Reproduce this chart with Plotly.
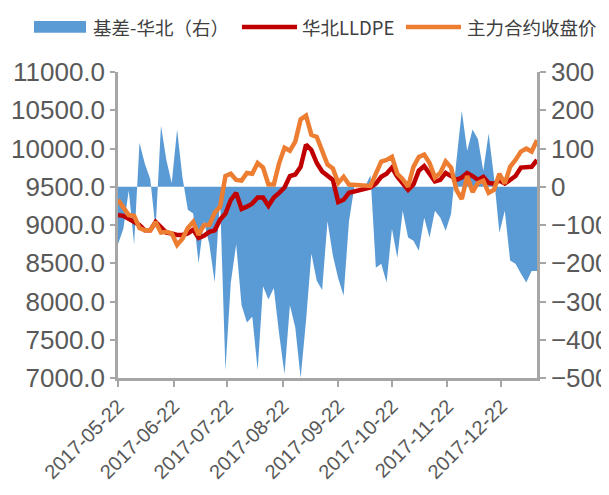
import pandas as pd
import plotly.graph_objects as go

# dates: every 3 calendar days from 2017-05-22 to 2018-01-11
dates = pd.date_range("2017-05-22", "2018-01-11", freq="3D")

# 华北LLDPE (left axis)
lldpe = [9130, 9120, 9080, 9040, 9000, 8930, 8930, 9040, 8960, 8900,
         8890, 8870, 8870, 8890, 8940, 8830, 8860, 8910, 8930, 9070,
         9150, 9330, 9420, 9210, 9240, 9280, 9360, 9360, 9250, 9360,
         9420, 9490, 9640, 9660, 9760, 10050, 9980, 9810, 9700, 9640,
         9590, 9300, 9330, 9420, None, None, None, 9490, 9540, 9630,
         9670, 9750, 9630, 9540, 9460, 9530, 9710, 9770, 9670, 9570,
         9590, 9680, 9640, 9590, 9620, 9680, 9640, 9590, 9630, 9550,
         9540, 9580, 9540, 9590, 9640, 9750, 9760, 9760, 9850]

# 主力合约收盘价 (left axis)
futures = [9330, 9240, 9130, 9120, 8960, 8930, 8930, 9040, 8900, 8910,
           8890, 8740, 8820, 8960, 9040, 8870, 9000, 9000, 9160, 9240,
           9640, 9670, 9590, 9580, 9680, 9670, 9810, 9750, 9530, 9530,
           9810, 10010, 9970, 10090, 10380, 10430, 10180, 10150, 9980, 9790,
           9740, 9550, 9630, 9530, None, None, None, 9510, 9660, 9830,
           9850, 9890, 9670, 9600, 9500, 9760, 9890, 9920, 9810, 9620,
           9680, 9830, 9750, 9460, 9340, 9640, 9430, 9550, 9580, 9420,
           9460, 9670, 9540, 9760, 9850, 9960, 10000, 9960, 10110]

# 基差-华北 (right axis)
basis = [-150, -110, -10, -150, 115, 60, 20, -110, 160, 70,
         10, 150, 25, -60, -70, -200, -90, -150, -250, -30,
         -480, -250, -150, -310, -355, -340, -480, -260, -295, -265,
         -385, -490, -310, -368, -500, -350, -175, -246, -270, -90,
         -180, -240, -285, -90, 0, 0, 0, 30, -212, -201,
         -250, -110, -186, -63, -133, -141, -167, -81, -133, -63,
         -81, -115, -71, 68, 199, 94, 150, 125, 42, 139,
         24, -120, -63, -193, -201, -227, -250, -220, -220]

tick_dates = ["2017-05-22", "2017-06-22", "2017-07-22", "2017-08-22",
              "2017-09-22", "2017-10-22", "2017-11-22", "2017-12-22"]

series_names = ["基差-华北（右）", "华北LLDPE", "主力合约收盘价"]
series_colors = ["#5B9BD5", "#C00000", "#ED7D31"]

FONT = "Liberation Sans, Arial, Noto Sans CJK SC, sans-serif"
AX = "#A6A6A6"
TXT = "#595959"

fig = go.Figure()
fig.add_trace(go.Scatter(
    x=dates, y=basis, name=series_names[0], mode="lines",
    line=dict(width=0, color=series_colors[0]), fill="tozeroy",
    fillcolor=series_colors[0], yaxis="y", showlegend=False))
fig.add_trace(go.Scatter(
    x=dates, y=lldpe, name=series_names[1], mode="lines",
    line=dict(width=4.5, color=series_colors[1]), connectgaps=True,
    yaxis="y2", showlegend=False))
fig.add_trace(go.Scatter(
    x=dates, y=futures, name=series_names[2], mode="lines",
    line=dict(width=4.5, color=series_colors[2]), connectgaps=True,
    yaxis="y2", showlegend=False))

# custom legend (paper coordinates)
LY = 1.147
fig.add_shape(type="rect", xref="paper", yref="paper",
              x0=-0.2005, x1=-0.0764, y0=1.128, y1=1.167,
              fillcolor=series_colors[0], line=dict(width=0))
fig.add_shape(type="line", xref="paper", yref="paper",
              x0=0.2959, x1=0.4272, y0=LY, y1=LY,
              line=dict(color=series_colors[1], width=4.5))
fig.add_shape(type="line", xref="paper", yref="paper",
              x0=0.6874, x1=0.8186, y0=LY, y1=LY,
              line=dict(color=series_colors[2], width=4.5))
for xp, txt in zip([-0.0644, 0.4344, 0.8282], series_names):
    fig.add_annotation(xref="paper", yref="paper", x=xp, y=LY,
                       xanchor="left", yanchor="middle", text=txt,
                       showarrow=False,
                       font=dict(size=18.5, color="#404040",
                                 family="Noto Sans CJK SC, Liberation Sans, sans-serif"))

# figure is shrunk by the page's 8px body margin so the plot lands in place
fig.update_layout(
    width=601, height=487,
    margin=dict(l=110, r=72, t=64, b=117, autoexpand=False),
    paper_bgcolor="white", plot_bgcolor="white",
    font=dict(family=FONT, color=TXT),
    showlegend=False,
    xaxis=dict(type="date", range=["2017-05-22", "2018-01-11"],
               tickvals=tick_dates, ticktext=tick_dates, tickangle=-45,
               showline=True, linecolor=AX, linewidth=2.5,
               ticks="outside", ticklen=6, tickcolor=AX, tickwidth=2,
               showgrid=False, zeroline=False, automargin=False,
               tickfont=dict(size=20, color=TXT)),
    yaxis=dict(side="right", range=[-500, 300], dtick=100,
               showline=True, linecolor=AX, linewidth=2.5,
               ticks="outside", ticklen=6, tickcolor=AX, tickwidth=2,
               showgrid=False, zeroline=False, automargin=False,
               tickfont=dict(size=26, color=TXT)),
    yaxis2=dict(side="left", overlaying="y", range=[7000, 11000], dtick=500,
                tickformat=".1f",
                showline=True, linecolor=AX, linewidth=2.5,
                ticks="outside", ticklen=5, tickcolor=AX, tickwidth=2,
                showgrid=False, zeroline=False, automargin=False,
                tickfont=dict(size=26, color=TXT)),
)

fig.write_html("out.html")
